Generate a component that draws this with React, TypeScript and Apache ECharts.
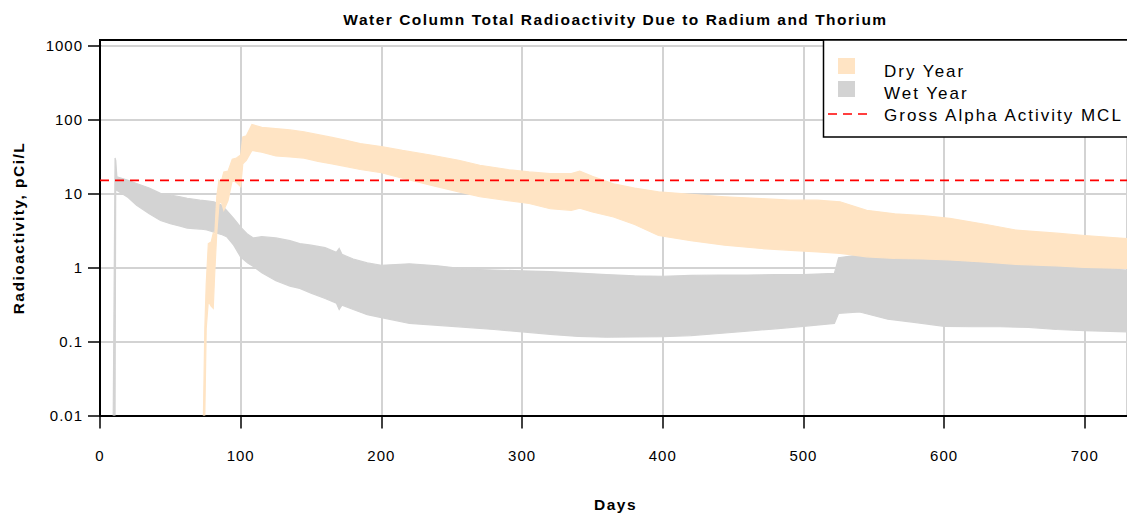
import React, { useEffect, useRef } from 'react';
import * as echarts from 'echarts';

const TITLE = 'Water Column Total Radioactivity Due to Radium and Thorium';
const X_NAME = 'Days';
const Y_NAME = 'Radioactivity, pCi/L';
const LEGEND_LABELS = ['Dry Year', 'Wet Year', 'Gross Alpha Activity MCL'];
const yTickLabels = ['0.01', '0.1', '1', '10', '100', '1000'];
const X_MIN = 0;
const X_MAX = 730;
const X_STEP = 100;
const MCL = 15;

const wetDays = [9.4, 10.7, 11.2, 12, 20, 26, 35, 43, 50, 57, 62, 71, 76, 81, 86, 90, 95, 100, 105, 109, 115, 125, 135, 142, 150, 160, 168, 170, 172, 180, 190, 200, 220, 240, 260, 280, 300, 320, 340, 360, 380, 400, 420, 440, 460, 480, 500, 522, 525, 540, 560, 580, 600, 620, 640, 660, 680, 700, 730];
const wetUpper = [0.01, 30, 28, 16.7, 15, 13.6, 11.8, 10, 9.5, 9.0, 8.6, 8.1, 7.9, 7.7, 7.0, 5.9, 4.6, 3.5, 2.8, 2.5, 2.6, 2.5, 2.3, 2.1, 2.0, 1.85, 1.6, 1.8, 1.5, 1.3, 1.15, 1.07, 1.12, 1.05, 0.95, 0.92, 0.9, 0.88, 0.84, 0.8, 0.77, 0.76, 0.78, 0.79, 0.79, 0.8, 0.8, 0.83, 1.35, 1.48, 1.55, 1.45, 1.3, 1.2, 1.15, 1.1, 1.05, 1.0, 0.92];
const wetLower = [0.01, 0.01, 20, 11, 8.8, 6.9, 5.3, 4.3, 3.9, 3.6, 3.4, 3.3, 3.2, 3.0, 2.8, 2.6, 2.0, 1.38, 1.15, 1.03, 0.85, 0.66, 0.56, 0.52, 0.45, 0.38, 0.33, 0.27, 0.31, 0.27, 0.23, 0.21, 0.175, 0.165, 0.155, 0.145, 0.135, 0.125, 0.117, 0.114, 0.115, 0.116, 0.12, 0.128, 0.138, 0.148, 0.16, 0.175, 0.24, 0.25, 0.2, 0.18, 0.16, 0.158, 0.158, 0.155, 0.145, 0.14, 0.135];

const dryDays = [73.5, 74.5, 75.5, 77, 79, 80.5, 81.5, 83, 84.5, 86, 88, 91, 94, 97, 100, 101.5, 104, 108, 115, 125, 135, 145, 155, 165, 175, 185, 200, 215, 235, 255, 270, 290, 305, 320, 335, 341, 350, 365, 380, 397, 420, 444, 470, 491, 510, 526, 545, 565, 585, 604, 630, 651, 680, 700, 730];
const dryUpper = [0.01, 0.15, 0.6, 2.1, 2.2, 2.9, 2.6, 9, 15, 14, 19.5, 20, 29, 30, 33, 58, 60, 85, 78, 75, 72, 68, 62, 57, 52, 47, 43, 38, 33, 28, 24, 21, 19.5, 18.5, 18.5, 20, 17, 13.5, 11.8, 10.5, 9.7, 9, 8.5, 8.1, 8.1, 7.7, 5.9, 5.3, 5.0, 4.6, 3.8, 3.2, 2.9, 2.7, 2.45];
const dryLower = [0.01, 0.01, 0.15, 0.35, 0.3, 0.28, 0.8, 2.9, 7, 8, 5.9, 8, 15, 14, 12.3, 25, 28, 38, 36, 32, 31, 30, 27, 25, 23, 21, 19, 16, 12.9, 10.5, 9, 8, 7.3, 6.2, 5.9, 6.3, 5.6, 4.8, 3.8, 2.7, 2.3, 2.0, 1.8, 1.7, 1.62, 1.55, 1.39, 1.32, 1.3, 1.26, 1.18, 1.1, 1.05, 1.0, 0.97];

const DRY_COLOR = '#FFE4C4';
const WET_COLOR = '#D3D3D3';
const MCL_COLOR = '#FF0000';
const FONT = '"Liberation Sans", Arial, Helvetica, sans-serif';

function bandSeries(name: string, days: number[], upper: number[], lower: number[], color: string, z: number) {
  return {
    type: 'custom',
    name,
    z,
    silent: true,
    clip: true,
    data: [[days[0], upper[0]]],
    renderItem: (_params: any, api: any) => {
      const top = days.map((d, i) => api.coord([d, upper[i]]));
      const bot = days.map((d, i) => api.coord([d, lower[i]])).reverse();
      return {
        type: 'polygon',
        shape: { points: top.concat(bot) },
        style: { fill: color, stroke: color, lineWidth: 1.2 },
      };
    },
  };
}

export default function App() {
  const ref = useRef<HTMLDivElement>(null);
  useEffect(() => {
    if (!ref.current) return;
    const chart = echarts.init(ref.current, null, { renderer: 'svg' });
    const option: any = {
      animation: false,
      backgroundColor: '#FFFFFF',
      grid: { left: 100, right: -4, top: 45.3, bottom: 103.5, containLabel: false },
      xAxis: {
        type: 'value',
        min: X_MIN,
        max: X_MAX,
        interval: X_STEP,
        axisLine: { show: true, onZero: false, lineStyle: { color: '#000', width: 2 } },
        axisTick: { show: true, length: 13, lineStyle: { color: '#000', width: 1.5 } },
        axisLabel: { margin: 32, fontSize: 15, color: '#000', fontFamily: FONT, showMaxLabel: false },
        splitLine: { show: true, lineStyle: { color: '#D3D3D3', width: 2 } },
      },
      yAxis: {
        type: 'log',
        logBase: 10,
        min: 0.01,
        max: 1000,
        axisLine: { show: true, lineStyle: { color: '#000', width: 2 } },
        axisTick: { show: true, length: 12, lineStyle: { color: '#000', width: 1.5 } },
        axisLabel: {
          margin: 17,
          fontSize: 15,
          color: '#000',
          fontFamily: FONT,
          formatter: (v: number) => {
            const idx = Math.round(Math.log10(v)) + 2;
            return yTickLabels[idx] ?? String(v);
          },
        },
        splitLine: { show: true, lineStyle: { color: '#D3D3D3', width: 2 } },
      },
      series: [
        bandSeries(LEGEND_LABELS[1], wetDays, wetUpper, wetLower, WET_COLOR, 2),
        bandSeries(LEGEND_LABELS[0], dryDays, dryUpper, dryLower, DRY_COLOR, 3),
        {
          type: 'line',
          name: LEGEND_LABELS[2],
          data: [[X_MIN, MCL], [X_MAX, MCL]],
          symbol: 'none',
          silent: true,
          z: 5,
          lineStyle: { color: MCL_COLOR, width: 1.6, type: [9, 6] },
        },
      ],
      graphic: [
        { type: 'line', z: 50, shape: { x1: 100, y1: 40, x2: 1127, y2: 40 }, style: { stroke: '#000', lineWidth: 2 } },
        { type: 'line', z: 50, shape: { x1: 100, y1: 39, x2: 100, y2: 46 }, style: { stroke: '#000', lineWidth: 2 } },
        {
          type: 'text', z: 50, x: 615.5, y: 19,
          style: { text: TITLE, fill: '#000', font: 'bold 15.5px ' + FONT, align: 'center', verticalAlign: 'middle' },
        },
        {
          type: 'text', z: 50, x: 615.5, y: 504,
          style: { text: X_NAME, fill: '#000', font: 'bold 15.5px ' + FONT, align: 'center', verticalAlign: 'middle' },
        },
        {
          type: 'text', z: 50, x: 18, y: 228, rotation: Math.PI / 2,
          style: { text: Y_NAME, fill: '#000', font: 'bold 15.5px ' + FONT, align: 'center', verticalAlign: 'middle' },
        },
        { type: 'rect', z: 60, shape: { x: 823.5, y: 40, width: 320, height: 97 }, style: { fill: '#fff', stroke: '#000', lineWidth: 1.5 } },
        { type: 'rect', z: 61, shape: { x: 838, y: 58, width: 17, height: 16 }, style: { fill: DRY_COLOR } },
        { type: 'rect', z: 61, shape: { x: 838, y: 81, width: 17, height: 16 }, style: { fill: WET_COLOR } },
        { type: 'line', z: 61, shape: { x1: 828, y1: 114, x2: 869, y2: 114 }, style: { stroke: MCL_COLOR, lineWidth: 1.6, lineDash: [9, 6] } },
        { type: 'text', z: 61, x: 884, y: 71, style: { text: LEGEND_LABELS[0], fill: '#000', font: '17px ' + FONT, align: 'left', verticalAlign: 'middle' } },
        { type: 'text', z: 61, x: 884, y: 93, style: { text: LEGEND_LABELS[1], fill: '#000', font: '17px ' + FONT, align: 'left', verticalAlign: 'middle' } },
        { type: 'text', z: 61, x: 884, y: 115, style: { text: LEGEND_LABELS[2], fill: '#000', font: '17px ' + FONT, align: 'left', verticalAlign: 'middle' } },
      ],
    };
    chart.setOption(option);
    return () => chart.dispose();
  }, []);
  return (
    <>
      <style>{`
        #rc text[style*="15.5px"] { letter-spacing: 1.5px; }
        #rc text[style*="17px"] { letter-spacing: 2px; }
        #rc text[style*="15px"] { letter-spacing: 1px; }
      `}</style>
      <div id="rc" ref={ref} style={{ position: 'fixed', left: 0, top: 0, width: 1127, height: 519, background: '#fff' }} />
    </>
  );
}
